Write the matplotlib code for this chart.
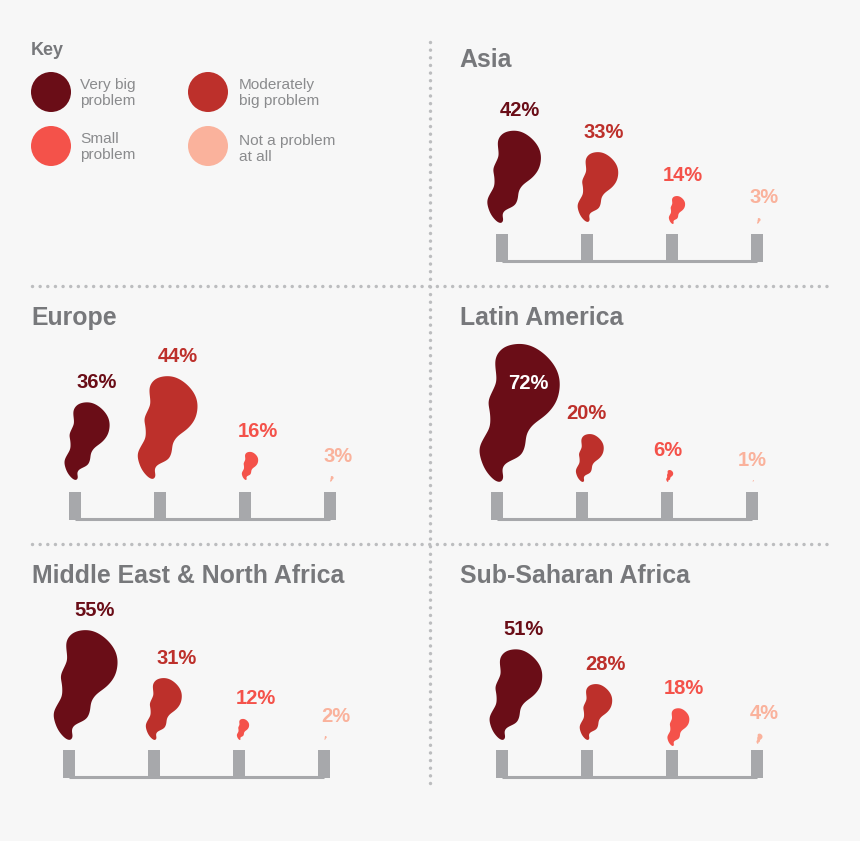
import matplotlib
matplotlib.use("Agg")
import matplotlib.pyplot as plt
from matplotlib.patches import Circle
import numpy as np

W, H = 860, 841

REGIONS = ["Asia", "Europe", "Latin America", "Middle East & North Africa", "Sub-Saharan Africa"]
VERY_BIG = [42, 36, 72, 55, 51]
MODERATE = [33, 44, 20, 31, 28]
SMALL = [14, 16, 6, 12, 18]
NOT_AT_ALL = [3, 3, 1, 2, 4]
KEY_LABELS = ["Very big\nproblem", "Moderately\nbig problem", "Small\nproblem", "Not a problem\nat all"]

COLORS = ["#6a0d17", "#bd302b", "#f4524a", "#fab29c"]
GREY = "#77787b"
KEY_GREY = "#8a8b8d"
CHIMNEY = "#a7a8ab"
DOTS = "#bcbdbf"
BG = "#f7f7f7"
FONT = ["Liberation Sans", "DejaVu Sans"]

# layout: first chimney centre x, baseline y, title x, title y (pixels)
LAYOUT = {
    "Asia": (502, 262, 459, 60),
    "Europe": (75, 520, 31.5, 318),
    "Latin America": (497, 520, 460, 318),
    "Middle East & North Africa": (69, 778, 31.5, 576),
    "Sub-Saharan Africa": (502, 778, 460, 576),
}
# label offset from chimney centre, pixels
LABEL_DX = {
    "Asia": [18, 17, 11, 7],
    "Europe": [22, 18, 13, 8],
    "Latin America": [31, 4, 1, 0],
    "Middle East & North Africa": [26, 23, 17, 12],
    "Sub-Saharan Africa": [22, 18, 12, 7],
}
# the plumes in the original are hand sized, these stray from the 2 px per point scale
SIZE_FIX = {
    ("Asia", 0): 1.1,
    ("Asia", 1): 1.06,
    ("Europe", 0): 1.08,
    ("Europe", 1): 1.17,
    ("Europe", 2): 0.88,
    ("Latin America", 0): 0.96,
    ("Latin America", 1): 1.2,
    ("Middle East & North Africa", 2): 0.88,
    ("Sub-Saharan Africa", 0): 0.89,
    ("Sub-Saharan Africa", 2): 1.05,
    ("Sub-Saharan Africa", 3): 1.3,
}
# and some sit off the chimney, (dx, dy) in pixels
PLUME_SHIFT = {
    ("Asia", 0): (-2, 1),
    ("Asia", 1): (0, 2),
    ("Europe", 0): (0, 2),
    ("Europe", 1): (-8, 3),
    ("Europe", 2): (0, 2),
    ("Latin America", 0): (2, 0),
    ("Sub-Saharan Africa", 2): (0, -6),
    ("Sub-Saharan Africa", 3): (0, -4),
}
SPACING = 85

# plume outline traced from the biggest one, (0, 0) is the tip
OUTLINE = np.array([
    (90, 458), (70, 450), (45, 420), (30, 380), (30, 350), (45, 320), (60, 290),
    (60, 250), (55, 215), (70, 180), (80, 150), (75, 100), (85, 70), (110, 50),
    (150, 43), (190, 52), (230, 80), (260, 120), (270, 165), (260, 215), (230, 255),
    (190, 285), (170, 315), (165, 350), (150, 380), (110, 400), (97, 420), (100, 445),
], dtype=float)
SHAPE = np.column_stack([OUTLINE[:, 0] - 90, 458 - OUTLINE[:, 1]]) / 415


def smooth(points, steps=12):
    out = []
    n = len(points)
    for i in range(n):
        p0, p1, p2, p3 = points[i - 1], points[i], points[(i + 1) % n], points[(i + 2) % n]
        for t in np.linspace(0, 1, steps, endpoint=False):
            out.append(0.5 * (2 * p1 + (p2 - p0) * t + (2 * p0 - 5 * p1 + 4 * p2 - p3) * t ** 2
                              + (3 * p1 - p0 - 3 * p2 + p3) * t ** 3))
    out = np.array(out)
    # take the corners off the traced points
    kernel = np.ones(11) / 11
    wrapped = np.vstack([out[-5:], out, out[:5]])
    return np.column_stack([np.convolve(wrapped[:, j], kernel, mode="valid") for j in range(2)])


SMOOTH_SHAPE = smooth(SHAPE)


def plume_height(name, i, value):
    return 2.0 * value * SIZE_FIX.get((name, i), 1.0)


def draw_panel(fig, name, values):
    x0, base, _, _ = LAYOUT[name]
    # axes in category units across, pixels above the baseline up
    left, right, top = x0 - 60, x0 + 3 * SPACING + 60, base - 200
    ax = fig.add_axes([left / W, 1 - (base + 20) / H, (right - left) / W, (base + 20 - top) / H])
    ax.set_xlim(-60 / SPACING, 3 + 60 / SPACING)
    ax.set_ylim(-20, base - top)
    ax.axis("off")
    cats = np.arange(4)
    ax.bar(cats, 28, width=12 / SPACING, color=CHIMNEY, linewidth=0)
    ax.plot([0, 3], [1, 1], color=CHIMNEY, lw=2.2, solid_capstyle="butt")
    for i, v in enumerate(values):
        h = plume_height(name, i, v)
        dx, dy = PLUME_SHIFT.get((name, i), (0, 0))
        tip = 38 + dy
        ax.fill(i + (1 + dx) / SPACING + SMOOTH_SHAPE[:, 0] * h / SPACING, tip + SMOOTH_SHAPE[:, 1] * h,
                color=COLORS[i], linewidth=0)
        if v > 60:
            y, c = tip + h * 0.71, "white"
        else:
            y, c = tip + h + 20, COLORS[i]
        ax.text(i + LABEL_DX[name][i] / SPACING, y, f"{v}%", color=c, ha="center", va="center",
                fontsize=14.5, fontweight="bold", family=FONT)


fig = plt.figure(figsize=(W / 100, H / 100), dpi=100, facecolor=BG)
bg = fig.add_axes([0, 0, 1, 1])
bg.set_xlim(0, W)
bg.set_ylim(H, 0)
bg.axis("off")

for xs, ys in [([430, 430], [42, 785]), ([32, 830], [286, 286]), ([32, 830], [544, 544])]:
    bg.plot(xs, ys, color=DOTS, lw=2.5, linestyle=(0, (0.01, 2.19)), dash_capstyle="round")

bg.text(31, 50, "Key", color=GREY, fontsize=13, fontweight="bold", va="center", family=FONT)
for (cx, cy, ty), color, label in zip([(51, 92, 93), (208, 92, 93), (51, 146, 147), (208, 146, 149)], COLORS, KEY_LABELS):
    bg.add_patch(Circle((cx, cy), 20, color=color, linewidth=0))
    bg.text(cx + 29 if cx < 100 else cx + 31, ty, label, color=KEY_GREY, fontsize=11.1, va="center",
            linespacing=1.2, family=FONT)

for k, region in enumerate(REGIONS):
    tx, ty = LAYOUT[region][2:]
    bg.text(tx, ty, region, color=GREY, fontsize=17.9, fontweight="bold", va="center", family=FONT)
    draw_panel(fig, region, [VERY_BIG[k], MODERATE[k], SMALL[k], NOT_AT_ALL[k]])

fig.savefig("out.png", dpi=100, facecolor=BG)
